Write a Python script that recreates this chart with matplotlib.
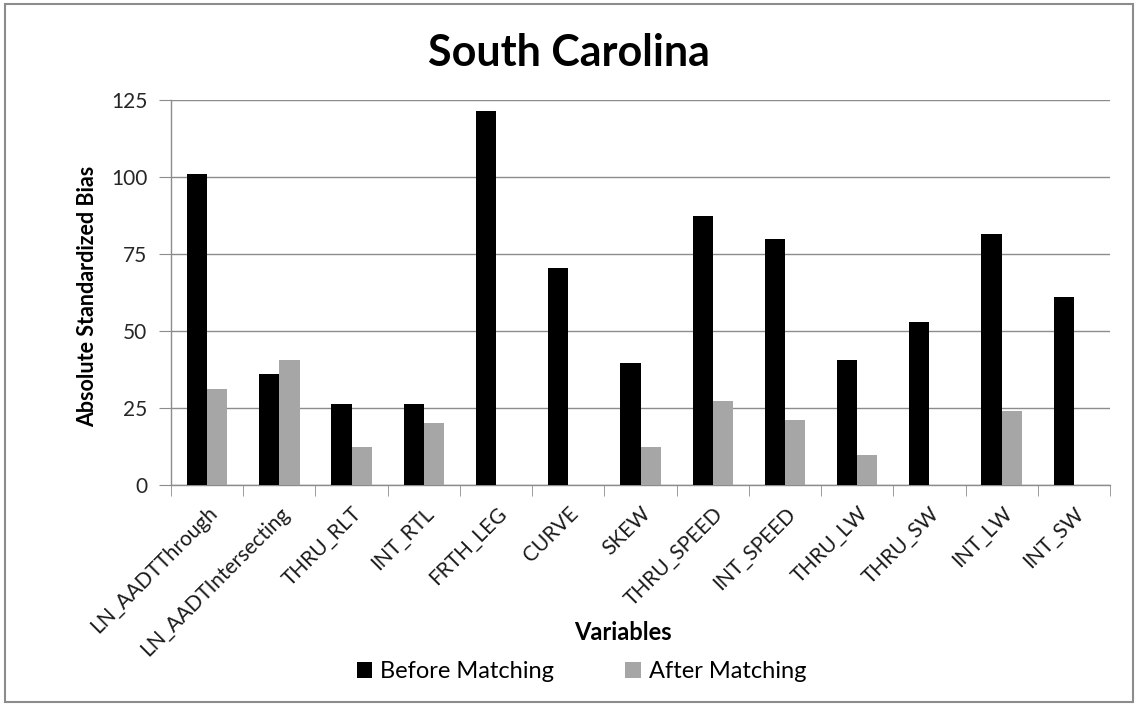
import matplotlib
matplotlib.use("Agg")
import matplotlib.pyplot as plt
from matplotlib.patches import Rectangle
from matplotlib.ticker import FixedLocator
import numpy as np

categories = ["LN_AADTThrough", "LN_AADTIntersecting", "THRU_RLT", "INT_RTL",
              "FRTH_LEG", "CURVE", "SKEW", "THRU_SPEED", "INT_SPEED",
              "THRU_LW", "THRU_SW", "INT_LW", "INT_SW"]
before_matching = [101.1, 36.1, 26.2, 26.2, 121.4, 70.4, 39.6, 87.5, 79.9, 40.6, 52.9, 81.5, 61.2]
after_matching = [31.1, 40.6, 12.5, 20.3, 0, 0, 12.5, 27.3, 21.2, 9.8, 0, 24.0, 0]
y_ticks = [0, 25, 50, 75, 100, 125]

plt.rcParams["font.family"] = ["Lato", "DejaVu Sans"]

fig = plt.figure(figsize=(11.38, 7.05), dpi=100)
ax = fig.add_axes([0.1503, 0.312, 0.8251, 0.546])

x = np.arange(len(categories))
w = 0.28
grid_col = "#8c8c8c"
ax.bar(x - w / 2, before_matching, width=w, color="#000000", label="Before Matching", zorder=3)
ax.bar(x + w / 2, after_matching, width=w, color="#a6a6a6", label="After Matching", zorder=3)

ax.set_xlim(-0.5, len(categories) - 0.5)
ax.set_ylim(0, 125)
ax.set_yticks(y_ticks)
ax.set_yticklabels([str(v) for v in y_ticks], fontsize=15, color="#262626")
ax.yaxis.grid(True, color=grid_col, linewidth=1.0, zorder=0)
ax.tick_params(axis="y", direction="out", length=9, color=grid_col, pad=8)

ax.set_xticks(x)
ax.set_xticklabels(categories, rotation=45, ha="right", rotation_mode="anchor",
                   fontsize=15, color="#1a1a1a")
ax.tick_params(axis="x", which="major", length=0, pad=13)
ax.xaxis.set_minor_locator(FixedLocator(np.arange(-0.5, len(categories), 1.0)))
ax.tick_params(axis="x", which="minor", direction="out", length=8, color=grid_col)

for s in ["top", "right"]:
    ax.spines[s].set_visible(False)
for s in ["left", "bottom"]:
    ax.spines[s].set_color(grid_col)
    ax.spines[s].set_linewidth(1.0)

fig.text(0.5, 0.925, "South Carolina", ha="center", va="center",
         fontsize=31, fontweight="bold", color="#000000")
fig.text(0.077, 0.579, "Absolute Standardized Bias", ha="center", va="center",
         rotation=90, fontsize=15.5, fontweight="bold", color="#000000")
fig.text(0.547, 0.103, "Variables", ha="center", va="center",
         fontsize=17, fontweight="bold", color="#000000")

leg = fig.legend(loc="center", bbox_to_anchor=(0.511, 0.047), ncol=2, frameon=False,
                 fontsize=17, handlelength=0.65, handleheight=0.65, handletextpad=0.35,
                 columnspacing=3.0)

fig.patches.append(Rectangle((0.004, 0.004), 0.992, 0.99, transform=fig.transFigure,
                             fill=False, edgecolor="#8c8c8c", linewidth=1.5))

fig.savefig("out.png", dpi=100, facecolor="white")
